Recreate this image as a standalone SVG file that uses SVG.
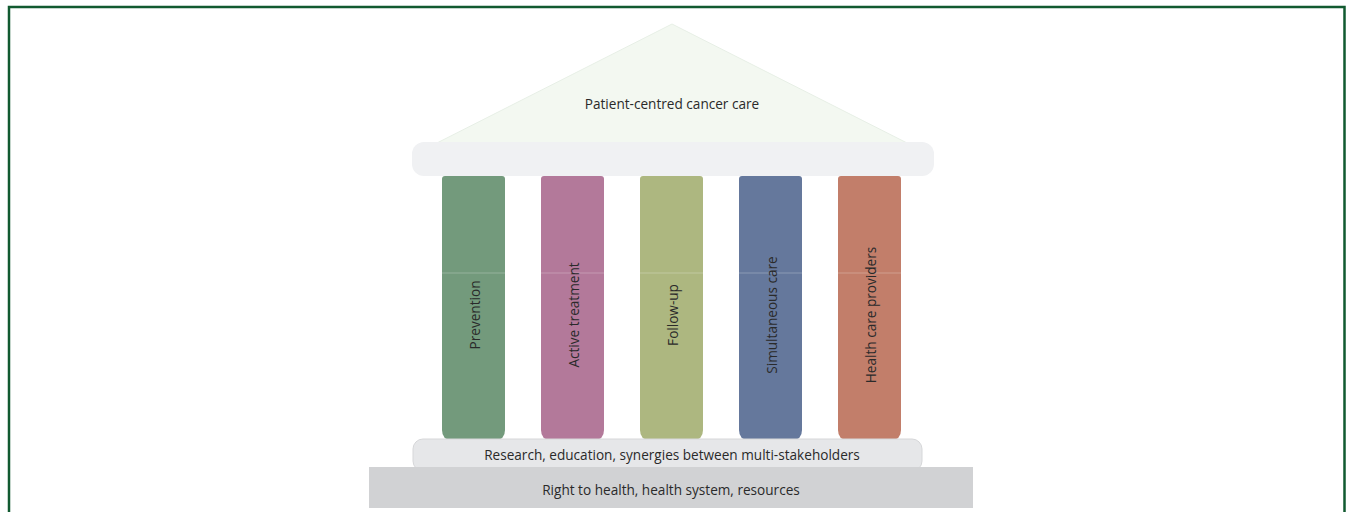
<svg xmlns="http://www.w3.org/2000/svg" width="1347" height="512" viewBox="0 0 1347 512">
<style>
.t{font-family:"Open Sans","Liberation Sans",sans-serif;font-size:13.6px;fill:#2a2a2a;text-anchor:middle;dominant-baseline:central}
.seam{stroke:#ffffff;stroke-opacity:0.25;stroke-width:1}
</style>
<rect width="1347" height="512" fill="#ffffff"/>
<path d="M9 512 V7 H1344.5 V512" fill="none" stroke="#115a30" stroke-width="2.5"/>
<g id="roof">
<polygon points="672,24 431,146 913,146" fill="#f3f8f1" stroke="#e7efe6" stroke-width="1"/>
<text class="t" x="672" y="103">Patient-centred cancer care</text>
</g>
<g id="capital">
<rect x="412" y="142" width="522" height="34" rx="12" fill="#f0f1f3"/>
</g>
<g id="pillar-prevention">
<path d="M442 179 Q442 176 445 176 H502 Q505 176 505 179 V430 Q505 440 495 440 H452 Q442 440 442 430 Z" fill="#739a7c"/>
<line class="seam" x1="442" y1="273" x2="505" y2="273"/>
<text class="t" transform="translate(474,315) rotate(-90)">Prevention</text>
</g>
<g id="pillar-active">
<path d="M541 179 Q541 176 544 176 H601 Q604 176 604 179 V430 Q604 440 594 440 H551 Q541 440 541 430 Z" fill="#b3799a"/>
<line class="seam" x1="541" y1="273" x2="604" y2="273"/>
<text class="t" transform="translate(573,315) rotate(-90)">Active  treatment</text>
</g>
<g id="pillar-followup">
<path d="M640 179 Q640 176 643 176 H700 Q703 176 703 179 V430 Q703 440 693 440 H650 Q640 440 640 430 Z" fill="#adb780"/>
<line class="seam" x1="640" y1="273" x2="703" y2="273"/>
<text class="t" transform="translate(672,315) rotate(-90)">Follow-up</text>
</g>
<g id="pillar-simultaneous">
<path d="M739 179 Q739 176 742 176 H799 Q802 176 802 179 V430 Q802 440 792 440 H749 Q739 440 739 430 Z" fill="#65789c"/>
<line class="seam" x1="739" y1="273" x2="802" y2="273"/>
<text class="t" transform="translate(771,315) rotate(-90)">Simultaneous  care</text>
</g>
<g id="pillar-providers">
<path d="M838 179 Q838 176 841 176 H898 Q901 176 901 179 V430 Q901 440 891 440 H848 Q838 440 838 430 Z" fill="#c27e6a"/>
<line class="seam" x1="838" y1="273" x2="901" y2="273"/>
<text class="t" transform="translate(870,315) rotate(-90)">Health care  providers</text>
</g>
<g id="base-research">
<rect x="413" y="439" width="509" height="32" rx="10" fill="#e6e7e9" stroke="#d6d7d9" stroke-width="1"/>
<text class="t" x="672" y="454">Research, education, synergies between multi-stakeholders</text>
</g>
<g id="base-rights">
<rect x="369" y="467" width="604" height="41" fill="#d1d2d4"/>
<text class="t" x="671" y="489">Right to health, health system, resources</text>
</g>
</svg>
